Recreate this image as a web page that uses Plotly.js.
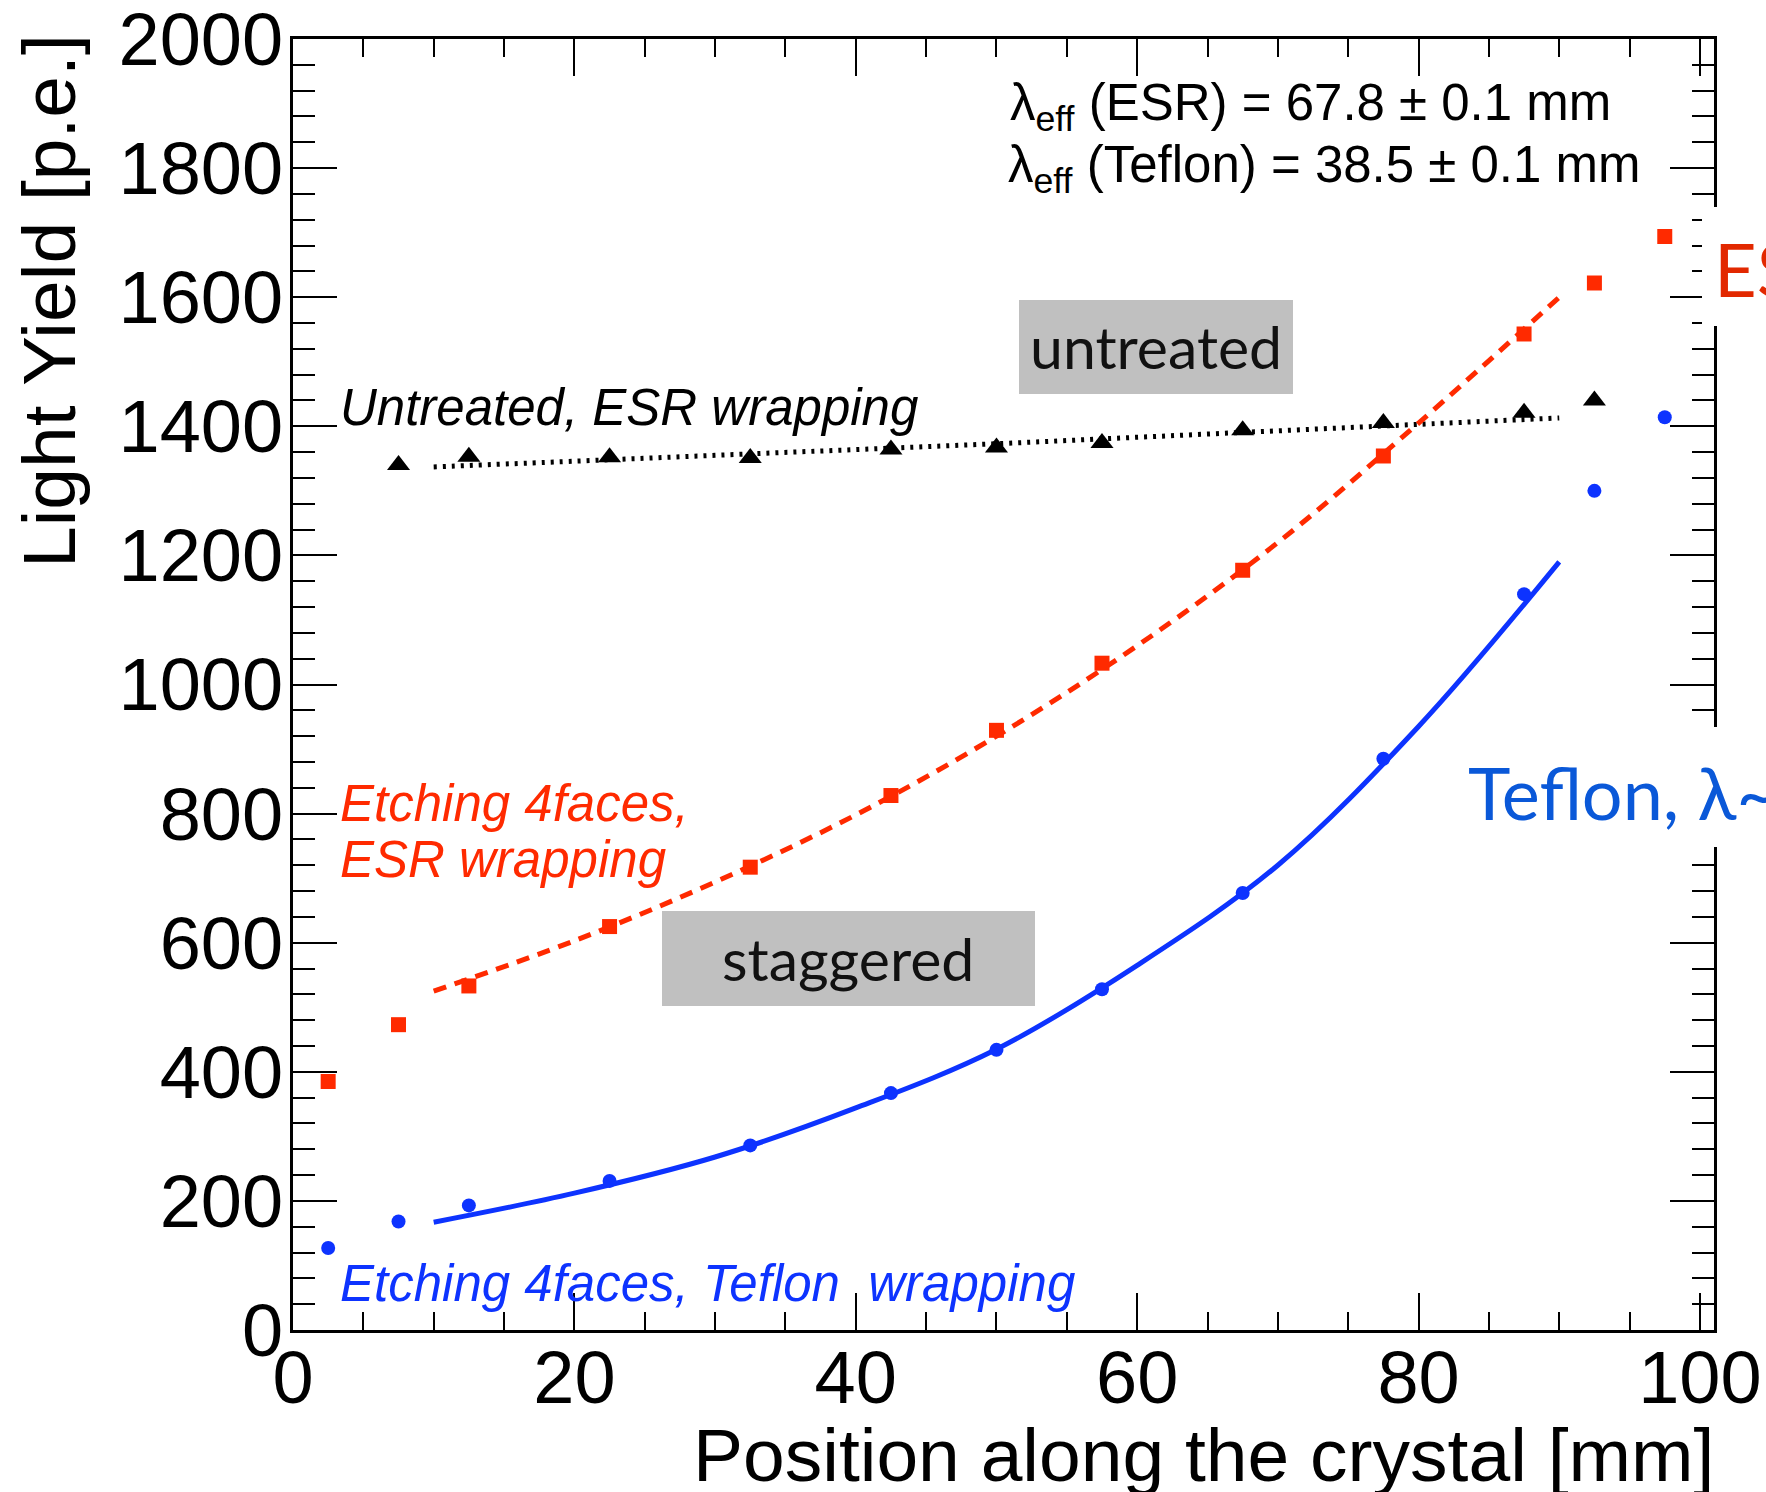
<!DOCTYPE html>
<html>
<head>
<meta charset="utf-8">
<script src="https://cdn.plot.ly/plotly-3.0.1.min.js"></script>
<style>html,body{margin:0;padding:0;background:#fff;}#chart{width:1766px;height:1492px;}</style>
</head>
<body>
<div id="chart"></div>
<script>
// ---- data ----
const positions = [2.5, 7.5, 12.5, 22.5, 32.5, 42.5, 50, 57.5, 67.5, 77.5, 87.5, 92.5, 97.5];
const esrEtched = [385, 473, 533, 625, 717, 828, 929, 1033, 1177, 1354, 1543, 1622, 1694];
const teflonEtched = [127, 168, 193, 231, 286, 367, 434, 528, 677, 885, 1140, 1300, 1414];
const untreatedPos = [7.5, 12.5, 22.5, 32.5, 42.5, 50, 57.5, 67.5, 77.5, 87.5, 92.5];
const untreatedESR = [1340, 1353, 1352, 1351, 1364, 1367, 1374, 1394, 1405, 1421, 1440];

const fitPos = [10, 20, 30, 40, 50, 60, 70, 80, 90];
const fitESR = [525, 603, 694, 798, 920, 1060, 1220, 1405, 1600];
const fitTeflon = [167, 212, 268, 344, 435, 565, 720, 935, 1190];
const fitUntreated = [1337, 1346, 1355, 1364, 1373, 1383, 1393, 1403, 1413];

const xTickVals = [0, 20, 40, 60, 80, 100];
const xTickText = ['0', '20', '40', '60', '80', '100'];
const yTickVals = [0, 200, 400, 600, 800, 1000, 1200, 1400, 1600, 1800, 2000];
const yTickText = ['0', '200', '400', '600', '800', '1000', '1200', '1400', '1600', '1800', '2000'];

// ---- layout helpers (pixel -> paper) ----
const W = 1766, H = 1492;
const L = 293, R = 1714, T = 39, B = 1330;
const px = v => (v - L) / (R - L);
const py = v => (B - v) / (B - T);

const RED = '#ff2a00', BLUE = '#0d33ff', BLACK = '#000000';
const helv = 'Liberation Sans, Arial, sans-serif';
const gill = 'Lato, Open Sans, sans-serif';

const traces = [
  {x: fitPos, y: fitUntreated, mode: 'lines', line: {color: BLACK, width: 5, dash: '3px,6px', shape: 'spline'}, hoverinfo: 'skip'},
  {x: fitPos, y: fitESR, mode: 'lines', line: {color: RED, width: 5, dash: '13px,9px', shape: 'spline'}, hoverinfo: 'skip'},
  {x: fitPos, y: fitTeflon, mode: 'lines', line: {color: BLUE, width: 5, shape: 'spline'}, hoverinfo: 'skip'},
  {x: untreatedPos, y: untreatedESR, mode: 'markers', marker: {symbol: 'triangle-up', size: 20, color: BLACK}},
  {x: positions, y: esrEtched, mode: 'markers', marker: {symbol: 'square', size: 15, color: RED}},
  {x: positions, y: teflonEtched, mode: 'markers', marker: {symbol: 'circle', size: 14, color: BLUE}}
];

const axisCommon = {
  showgrid: false, zeroline: false, showline: true, linecolor: BLACK, linewidth: 3,
  mirror: 'ticks', ticks: 'inside', tickcolor: BLACK, tickwidth: 2, ticklabeloverflow: 'allow',
  tickfont: {family: helv, size: 74, color: BLACK}, tickmode: 'array'
};

const layout = {
  width: W, height: H, autosize: false, showlegend: false,
  paper_bgcolor: '#ffffff', plot_bgcolor: '#ffffff',
  margin: {l: L, r: W - R, t: T, b: H - B, pad: 0},
  xaxis: Object.assign({}, axisCommon, {
    range: [0, 101], tickvals: xTickVals, ticktext: xTickText, ticklen: 37, ticklabelstandoff: -19,
    minor: {tickmode: 'linear', tick0: 0, dtick: 5, ticks: 'inside', ticklen: 18, tickwidth: 2, tickcolor: BLACK}
  }),
  yaxis: Object.assign({}, axisCommon, {
    range: [0, 2000], tickvals: yTickVals, ticktext: yTickText, ticklen: 44, ticklabelstandoff: -8,
    minor: {tickmode: 'linear', tick0: 0, dtick: 40, ticks: 'inside', ticklen: 22, tickwidth: 2, tickcolor: BLACK}
  }),
  shapes: [
    {type: 'rect', xref: 'paper', yref: 'paper', x0: px(1019), x1: px(1293), y0: py(394), y1: py(300), fillcolor: '#c0c0c0', line: {width: 0}, layer: 'above'},
    {type: 'rect', xref: 'paper', yref: 'paper', x0: px(662), x1: px(1035), y0: py(1006), y1: py(911), fillcolor: '#c0c0c0', line: {width: 0}, layer: 'above'},
    {type: 'rect', xref: 'paper', yref: 'paper', x0: px(1702), x1: px(1780), y0: py(326), y1: py(207), fillcolor: '#ffffff', line: {width: 0}, layer: 'above'},
    {type: 'rect', xref: 'paper', yref: 'paper', x0: px(1460), x1: px(1780), y0: py(847), y1: py(727), fillcolor: '#ffffff', line: {width: 0}, layer: 'above'}
  ],
  annotations: [
    {text: 'Light Yield [p.e.]', xref: 'paper', yref: 'paper', x: px(49), y: py(301), xanchor: 'center', yanchor: 'middle', textangle: -90, showarrow: false, font: {family: helv, size: 75, color: BLACK}},
    {text: 'Position along the crystal [mm]', xref: 'paper', yref: 'paper', x: px(1716), y: py(1455), xanchor: 'right', yanchor: 'middle', showarrow: false, font: {family: helv, size: 75, color: BLACK}},
    {text: 'λ<sub>eff</sub> (ESR) = 67.8 ± 0.1 mm', xref: 'paper', yref: 'paper', x: px(1008), y: py(106), xanchor: 'left', yanchor: 'middle', showarrow: false, font: {family: helv, size: 51, color: BLACK}},
    {text: 'λ<sub>eff</sub> (Teflon) = 38.5 ± 0.1 mm', xref: 'paper', yref: 'paper', x: px(1006), y: py(169), xanchor: 'left', yanchor: 'middle', showarrow: false, font: {family: helv, size: 51, color: BLACK}},
    {text: '<i>Untreated, ESR wrapping</i>', xref: 'paper', yref: 'paper', x: px(338), y: py(408), xanchor: 'left', yanchor: 'middle', showarrow: false, font: {family: helv, size: 51, color: BLACK}},
    {text: '<i>Etching 4faces,</i>', xref: 'paper', yref: 'paper', x: px(338), y: py(803), xanchor: 'left', yanchor: 'middle', showarrow: false, font: {family: helv, size: 51, color: RED}},
    {text: '<i>ESR wrapping</i>', xref: 'paper', yref: 'paper', x: px(338), y: py(860), xanchor: 'left', yanchor: 'middle', showarrow: false, font: {family: helv, size: 51, color: RED}},
    {text: '<i>Etching 4faces, Teflon  wrapping</i>', xref: 'paper', yref: 'paper', x: px(338), y: py(1283), xanchor: 'left', yanchor: 'middle', showarrow: false, font: {family: helv, size: 51, color: BLUE}},
    {text: 'untreated', xref: 'paper', yref: 'paper', x: px(1156), y: py(347), xanchor: 'center', yanchor: 'middle', showarrow: false, font: {family: gill, size: 59, color: '#111111'}},
    {text: 'staggered', xref: 'paper', yref: 'paper', x: px(848), y: py(958), xanchor: 'center', yanchor: 'middle', showarrow: false, font: {family: gill, size: 59, color: '#111111'}},
    {text: 'ESR', xref: 'paper', yref: 'paper', x: px(1712), y: py(268), xanchor: 'left', yanchor: 'middle', showarrow: false, font: {family: gill, size: 74, color: '#e22800'}},
    {text: 'Teflon, λ~', xref: 'paper', yref: 'paper', x: px(1466), y: py(792), xanchor: 'left', yanchor: 'middle', showarrow: false, font: {family: gill, size: 72, color: '#0a58d8'}}
  ]
};

Plotly.newPlot('chart', traces, layout, {displayModeBar: false, staticPlot: true});
</script>
</body>
</html>
